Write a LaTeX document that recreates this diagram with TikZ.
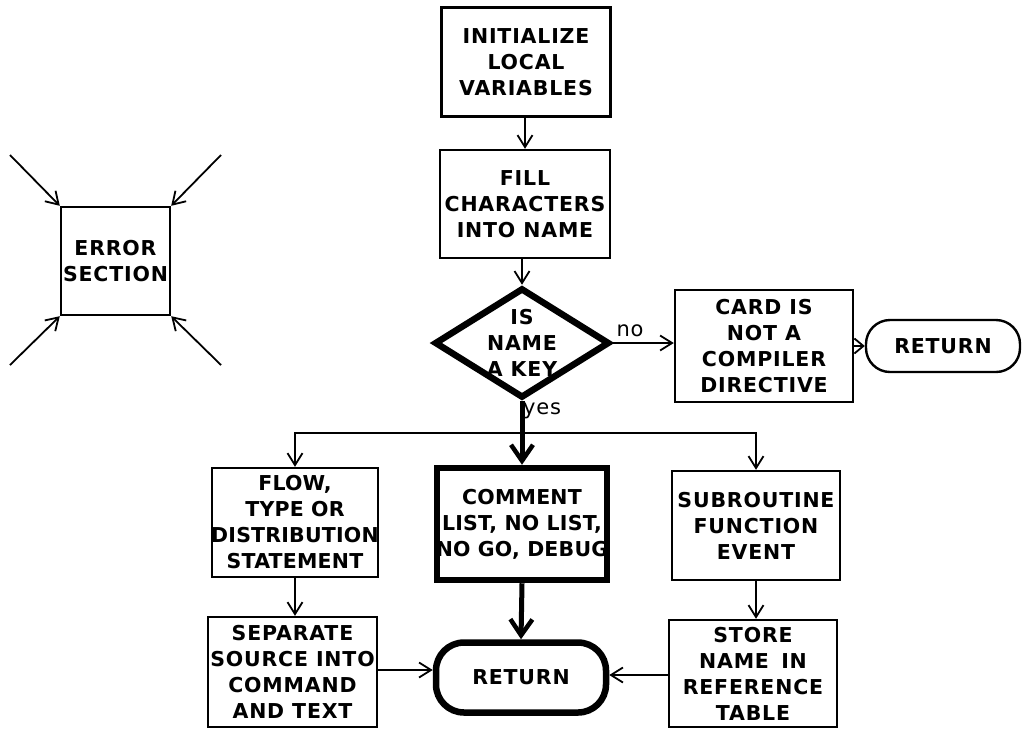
\documentclass[tikz,border=0pt]{standalone}
\usepackage{fontspec}
\setmainfont{DejaVu Sans}[LetterSpace=4]
\usetikzlibrary{arrows.meta,shapes.geometric}
\tikzset{
  txt/.style={font=\bfseries\fontsize{20.5}{26}\selectfont, align=center, inner sep=0pt},
  box/.style={txt, draw, line width=2.4pt, rectangle, minimum width=#1, inner xsep=-9pt},
  box/.default=170pt,
  thickbox/.style={box, line width=6.5pt},
  tight/.style={font=\addfontfeature{LetterSpace=1}\bfseries\fontsize{20.5}{26}\selectfont},
  ret/.style={txt, draw, line width=2.4pt, rounded corners=24pt},
  arr/.style={line width=1.8pt, -{Straight Barb[length=12pt,width=15pt,line width=1.8pt]}},
  sarr/.style={line width=1.8pt, -{Straight Barb[length=9pt,width=15pt,line width=1.8pt]}},
  tarr/.style={line width=5pt, -{Straight Barb[length=16pt,width=22pt,line width=4.5pt]}},
  lab/.style={font=\fontsize{21}{24}\selectfont, inner sep=1pt},
}
\begin{document}
\begin{tikzpicture}[x=1pt,y=-1pt]
\useasboundingbox (0,0) rectangle (1027,732);
% nodes
\node[box=169pt, minimum height=109pt] (init) at (526,62) {INITIALIZE\\LOCAL\\VARIABLES};
\node[box=170pt, minimum height=108pt] (fill) at (525,204) {FILL\\CHARACTERS\\INTO NAME};
\node[diamond, draw, line width=6.5pt, minimum width=175pt, minimum height=110pt, inner sep=0pt] (dia) at (522,343) {};
\node[txt] (diatxt) at (522,343) {IS\\NAME\\A KEY};
\node[box=178pt, minimum height=112pt] (card) at (764,346) {CARD IS\\NOT A\\COMPILER\\DIRECTIVE};
\node[ret, minimum width=154pt, minimum height=52pt] (ret1) at (943,346) {RETURN};
\node[box=166pt, minimum height=109pt, tight] (flow) at (295,522.5) {FLOW,\\TYPE OR\\DISTRIBUTION\\STATEMENT};
\node[thickbox=175pt, minimum height=112pt, tight] (comment) at (522,524) {COMMENT\\LIST, NO LIST,\\NO GO, DEBUG};
\node[box=168pt, minimum height=109pt] (sub) at (756,525.5) {SUBROUTINE\\FUNCTION\\EVENT};
\node[box=169pt, minimum height=110pt] (sep) at (292.5,672) {SEPARATE\\SOURCE INTO\\COMMAND\\AND TEXT};
\node[ret, line width=6.5pt, minimum width=170pt, minimum height=70pt, rounded corners=28pt] (ret2) at (521,677.5) {RETURN};
\node[box=168pt, minimum height=107pt] (store) at (753,673.5) {STORE\\NAME\hspace{0.6em}IN\\REFERENCE\\TABLE};
\node[box=109pt, minimum height=108pt] (err) at (115.5,261) {ERROR\\SECTION};
% labels
\node[lab] (no) at (630,331) {no};
\node[lab] (yes) at (542,411) {yes};
% error section arrows
\coordinate (e1) at (10,155);
\coordinate (e2) at (221,155);
\coordinate (e3) at (10,365);
\coordinate (e4) at (221,365);
\draw[arr] (e1) -- (err.north west);
\draw[arr] (e2) -- (err.north east);
\draw[arr] (e3) -- (err.south west);
\draw[arr] (e4) -- (err.south east);
% main flow
\draw[arr] (fill.north |- init.south) -- (fill.north);
\draw[arr] (dia.north |- fill.south) -- (dia.north);
\draw[arr] (dia.east) -- (dia.east -| card.west);
\draw[sarr] (card.east) -- (ret1.west);
\coordinate (br) at (522,433);
\draw[tarr] (dia.south) -- (comment.north);
\draw[arr] (br) -| (flow.north);
\draw[arr] (br) -| (sub.north);
\draw[arr] (flow.south) -- (flow.south |- sep.north);
\draw[arr] (sub.south) -- (sub.south |- store.north);
\draw[tarr] (comment.south) -- (ret2.north);
\draw[arr] (sep.east |- 0,670) -- (ret2.west |- 0,670);
\draw[arr] (store.west |- 0,675) -- (ret2.east |- 0,675);
\end{tikzpicture}
\end{document}
